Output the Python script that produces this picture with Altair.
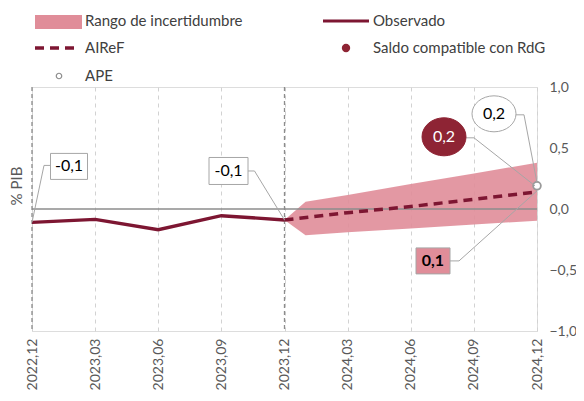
import json
import altair as alt
import pandas as pd

# ---------------- data ----------------
obs_months = [0, 3, 6, 9, 12]
obs_values = [-0.11, -0.085, -0.17, -0.055, -0.09]

airef_months = [12, 15, 18, 21, 24]
airef_values = [-0.09, -0.03, 0.02, 0.08, 0.14]

band_months = [12, 13, 15, 18, 21, 24]
band_low = [-0.09, -0.215, -0.19, -0.16, -0.127, -0.096]
band_high = [-0.09, 0.06, 0.115, 0.205, 0.29, 0.38]

ape_month = 24
ape_value = 0.19
rdg_month = 24
rdg_value = 0.19

tick_months = [0, 3, 6, 9, 12, 15, 18, 21, 24]
tick_labels = ["2022,12", "2023,03", "2023,06", "2023,09", "2023,12",
               "2024,03", "2024,06", "2024,09", "2024,12"]
y_ticks = [-1.0, -0.5, 0.0, 0.5, 1.0]

legend_labels = ["Rango de incertidumbre", "Observado", "AIReF",
                 "Saldo compatible con RdG", "APE"]

# ---------------- layout ----------------
W, H = 505, 244
XMIN, XMAX = 0, 24
YMIN, YMAX = -1.0, 1.0
FONT = "Lato"
DARK = "#7d1632"
PINK = "#e08d99"
GRAY_TXT = "#595959"
LEAD = "#a6a6a6"


def dx(px):
    return px * (XMAX - XMIN) / W


def dy(py):
    return -py * (YMAX - YMIN) / H


def fmt(v):
    return f"{v:.1f}".replace(".", ",")


xs = alt.Scale(domain=[XMIN, XMAX], nice=False, zero=False)
ys = alt.Scale(domain=[YMIN, YMAX], nice=False, zero=False)

obs_df = pd.DataFrame({"m": obs_months, "v": obs_values})
airef_df = pd.DataFrame({"m": airef_months, "v": airef_values})
band_df = pd.DataFrame({"m": band_months, "lo": band_low, "hi": band_high})

label_expr = json.dumps(tick_labels) + "[round(datum.value / 3)]"

x_axis = alt.Axis(values=tick_months, labelExpr=label_expr, labelAngle=-90,
                  labelFontSize=14, labelColor=GRAY_TXT, labelFont=FONT,
                  labelPadding=7, grid=True, gridDash=[4, 4], gridColor="#d2d2d2",
                  domain=False, ticks=False, title=None)
y_axis = alt.Axis(orient="right", values=y_ticks,
                  labelExpr="replace(format(datum.value, '.1f'), '.', ',')",
                  labelFontSize=14, labelColor=GRAY_TXT, labelFont=FONT,
                  labelPadding=12, grid=False, domain=False, ticks=False, title=None)

base_axes = alt.Chart(pd.DataFrame({"m": [XMIN], "v": [0.0]})).mark_point(opacity=0).encode(
    x=alt.X("m:Q", scale=xs, axis=x_axis),
    y=alt.Y("v:Q", scale=ys, axis=y_axis),
)

band = alt.Chart(band_df).mark_area(color=PINK, opacity=0.9).encode(
    x=alt.X("m:Q", scale=xs), y=alt.Y("lo:Q", scale=ys), y2="hi:Q")

vlines = alt.Chart(pd.DataFrame({"m": [0, 12]})).mark_rule(
    color="#8c8c8c", strokeDash=[4, 3], strokeWidth=1.3).encode(
    x=alt.X("m:Q", scale=xs))

zero = alt.Chart(pd.DataFrame({"v": [0.0]})).mark_rule(
    color="#8c8c8c", strokeWidth=1.5).encode(y=alt.Y("v:Q", scale=ys))

obs_line = alt.Chart(obs_df).mark_line(color=DARK, strokeWidth=3.4).encode(
    x=alt.X("m:Q", scale=xs), y=alt.Y("v:Q", scale=ys))

airef_line = alt.Chart(airef_df).mark_line(
    color=DARK, strokeWidth=3.5, strokeDash=[9, 6]).encode(
    x=alt.X("m:Q", scale=xs), y=alt.Y("v:Q", scale=ys))

rdg_pt = alt.Chart(pd.DataFrame({"m": [rdg_month], "v": [rdg_value]})).mark_point(
    shape="circle", filled=True, color=DARK, size=60, opacity=1).encode(
    x=alt.X("m:Q", scale=xs), y=alt.Y("v:Q", scale=ys))

ape_pt = alt.Chart(pd.DataFrame({"m": [ape_month], "v": [ape_value]})).mark_point(
    shape="circle", filled=True, fill="white", stroke="#9a9a9a", strokeWidth=1.8,
    size=60, opacity=1).encode(
    x=alt.X("m:Q", scale=xs), y=alt.Y("v:Q", scale=ys))

# ---------------- callouts ----------------
callouts = [
    dict(m=obs_months[0], v=obs_values[0], text=fmt(obs_values[0]),
         cx=37, cy=-56, w=37, h=26, lead=[(19, -57), (12, -57), (0, 0)],
         kind="box", fill="white", weight="normal"),
    dict(m=obs_months[-1], v=obs_values[-1], text=fmt(obs_values[-1]),
         cx=-56, cy=-49, w=39, h=27, lead=[(-37, -49), (-30, -49), (0, 0)],
         kind="box", fill="white", weight="normal"),
    dict(m=airef_months[-1], v=airef_values[-1], text=fmt(airef_values[-1]),
         cx=-104, cy=69, w=34, h=26, lead=[(-87, 69), (-78, 69), (0, -1)],
         kind="box", fill=PINK, weight="bold"),
    dict(m=ape_month, v=ape_value, text=fmt(ape_value),
         cx=-43, cy=-72, w=44, h=36, lead=[(-21, -71), (-13, -71), (0, -3)],
         kind="ellipse", fill="white", weight="normal"),
    dict(m=rdg_month, v=rdg_value, text=fmt(rdg_value),
         cx=-93, cy=-49, w=44, h=38, lead=[(-71, -48), (-63, -48), (-2, 0)],
         kind="ellipse", fill="#8e2434", weight="normal"),
]

layers = []
seg_rows = []
for c in callouts:
    pts = [(c["m"] + dx(px), c["v"] + dy(py)) for px, py in c["lead"]]
    for (x1, y1), (x2, y2) in zip(pts[:-1], pts[1:]):
        seg_rows.append({"x": x1, "y": y1, "x2": x2, "y2": y2})
seg_df = pd.DataFrame(seg_rows)
leaders = alt.Chart(seg_df).mark_rule(color=LEAD, strokeWidth=1).encode(
    x=alt.X("x:Q", scale=xs), y=alt.Y("y:Q", scale=ys), x2="x2:Q", y2="y2:Q")
layers.append(leaders)

for c in callouts:
    cm = c["m"] + dx(c["cx"])
    cv = c["v"] + dy(c["cy"])
    d = pd.DataFrame({"m": [cm], "v": [cv], "t": [c["text"]],
                      "x1": [cm - dx(c["w"] / 2)], "x2": [cm + dx(c["w"] / 2)],
                      "y1": [cv - dy(c["h"] / 2)], "y2": [cv + dy(c["h"] / 2)]})
    if c["kind"] == "box":
        shape = alt.Chart(d).mark_rect(fill=c["fill"], stroke="#a6a6a6", strokeWidth=1).encode(
            x=alt.X("x1:Q", scale=xs), x2="x2:Q", y=alt.Y("y1:Q", scale=ys), y2="y2:Q")
        tcol = "black"
    else:
        r = c["h"] / c["w"]
        path = f"M-1,0 A1,{r:.3f} 0 1,1 1,0 A1,{r:.3f} 0 1,1 -1,0 Z"
        dark = c["fill"] != "white"
        shape = alt.Chart(d).mark_point(
            shape=path, filled=True, fill=c["fill"], opacity=1,
            stroke=c["fill"] if dark else "#a6a6a6", strokeWidth=1,
            size=c["w"] ** 2).encode(
            x=alt.X("m:Q", scale=xs), y=alt.Y("v:Q", scale=ys))
        tcol = "white" if dark else "black"
    txt = alt.Chart(d).mark_text(font=FONT, fontSize=16, fontWeight=c["weight"],
                                 color=tcol, align="center", baseline="middle").encode(
        x=alt.X("m:Q", scale=xs), y=alt.Y("v:Q", scale=ys), text="t:N")
    layers += [shape, txt]

# ---------------- legend ----------------
one = pd.DataFrame({"a": [0]})
leg = []
leg.append(alt.Chart(one).mark_rect(color=PINK).encode(
    x=alt.value(3), x2=alt.value(50), y=alt.value(-72), y2=alt.value(-58)))
leg.append(alt.Chart(one).mark_rule(color=DARK, strokeWidth=3).encode(
    x=alt.value(291), x2=alt.value(337), y=alt.value(-66)))
leg.append(alt.Chart(one).mark_rule(color=DARK, strokeWidth=3.5, strokeDash=[9, 6]).encode(
    x=alt.value(3), x2=alt.value(47), y=alt.value(-39)))
leg.append(alt.Chart(one).mark_point(shape="circle", filled=True, color="#8e2434",
                                     size=70, opacity=1).encode(
    x=alt.value(314), y=alt.value(-39)))
leg.append(alt.Chart(one).mark_point(shape="circle", filled=False, color="#8c8c8c",
                                     size=30, strokeWidth=1.2, opacity=1).encode(
    x=alt.value(27), y=alt.value(-11)))
leg_pos = [(53, -66), (341, -66), (53, -39), (341, -39), (53, -11)]
for lab, (px, py) in zip(legend_labels, leg_pos):
    leg.append(alt.Chart(one).mark_text(font=FONT, fontSize=15, color="#404040",
                                        align="left", baseline="middle").encode(
        x=alt.value(px), y=alt.value(py), text=alt.value(lab)))

ytitle = alt.Chart(one).mark_text(font=FONT, fontSize=15, color=GRAY_TXT, angle=270,
                                  align="center", baseline="middle").encode(
    x=alt.value(-15), y=alt.value(99), text=alt.value("% PIB"))

chart = alt.layer(
    base_axes, band, vlines, zero, obs_line, airef_line, rdg_pt, ape_pt,
    *layers, *leg, ytitle
).properties(
    width=W, height=H,
    autosize=alt.AutoSizeParams(type="none"),
    padding={"left": 24, "top": 79, "right": 39, "bottom": 62},
).configure_view(stroke="#cfcfcf", strokeWidth=1.2).configure(background="white")

chart.save("out.html", embed_options={"renderer": "svg", "actions": False})
